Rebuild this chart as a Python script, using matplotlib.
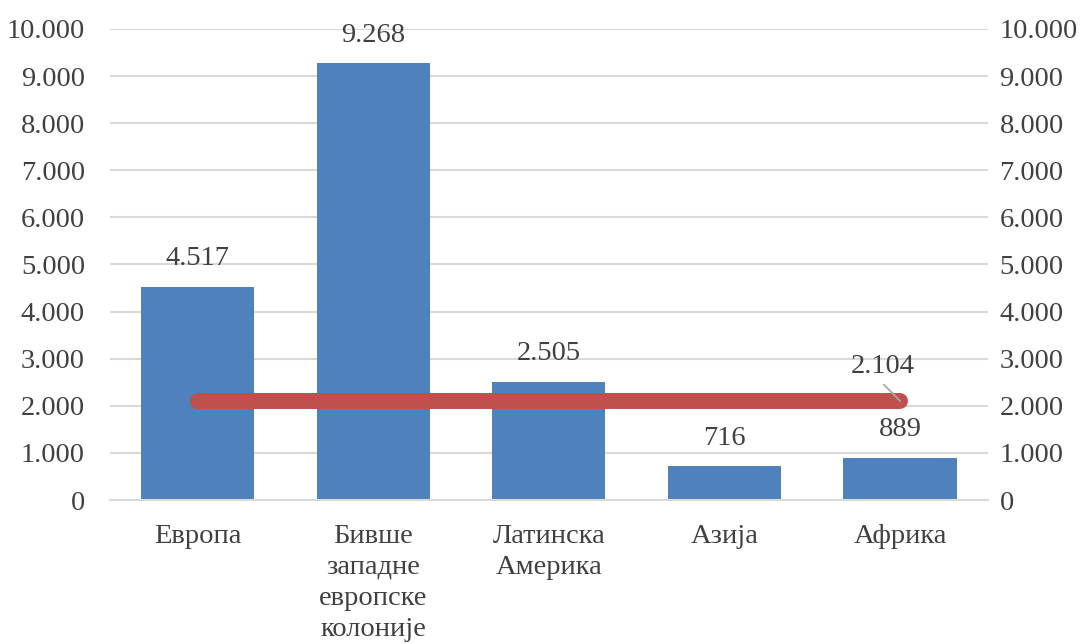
import matplotlib
matplotlib.use('agg')
import matplotlib.pyplot as plt
from matplotlib.ticker import FuncFormatter

categories = ['Европа', 'Бивше\nзападне\nевропске\nколоније', 'Латинска\nАмерика', 'Азија', 'Африка']
values = [4517, 9268, 2505, 716, 889]
world_avg = [2104, 2104, 2104, 2104, 2104]

BAR_COLOR = '#4F81BD'
LINE_COLOR = '#C0504D'
TEXT_COLOR = '#404040'
GRID_COLOR = '#D9D9D9'
FS = 20.5

plt.rcParams['font.family'] = ['Liberation Serif', 'DejaVu Serif']

fig = plt.figure(figsize=(10.89, 6.44), dpi=100)
ax = fig.add_axes([0.101, 0.2236, 0.806, 0.7314])

x = list(range(len(categories)))
ax.bar(x, values, width=0.645, color=BAR_COLOR, zorder=2)
ax.plot(x, world_avg, color=LINE_COLOR, linewidth=11.5, solid_capstyle='round', zorder=3)

for xi, v in zip(x, values):
    ax.text(xi, v + 600, f'{v:,}'.replace(',', '.'), ha='center', va='center',
            fontsize=FS, color=TEXT_COLOR, zorder=4)

# label for the average line, with a small leader line
last = x[-1]
ax.text(last - 0.1, world_avg[-1] + 730, f'{world_avg[-1]:,}'.replace(',', '.'),
        ha='center', va='center', fontsize=FS, color=TEXT_COLOR, zorder=4)
ax.plot([last - 0.09, last], [world_avg[-1] + 340, world_avg[-1]],
        color='#A6A6A6', lw=1.3, zorder=4)

ax.set_xlim(-0.5, len(categories) - 0.5)
ax.set_ylim(0, 10000)
ax.set_yticks(range(0, 10001, 1000))
fmt = FuncFormatter(lambda v, p: f'{int(v):,}'.replace(',', '.'))
ax.yaxis.set_major_formatter(fmt)
ax.yaxis.grid(True, color=GRID_COLOR, linewidth=1.5, zorder=0)
ax.set_axisbelow(True)

for s in ax.spines.values():
    s.set_visible(False)
ax.spines['bottom'].set_visible(True)
ax.spines['bottom'].set_color(GRID_COLOR)
ax.spines['bottom'].set_linewidth(1.5)

ax.set_xticks(x)
ax.set_xticklabels(categories, fontsize=FS, color=TEXT_COLOR, linespacing=1.33)
ax.tick_params(axis='x', length=0, pad=17)
ax.tick_params(axis='y', length=0, labelsize=FS, labelcolor=TEXT_COLOR, pad=18)

ax2 = ax.twinx()
ax2.set_ylim(0, 10000)
ax2.set_yticks(range(0, 10001, 1000))
ax2.yaxis.set_major_formatter(fmt)
ax2.tick_params(axis='y', length=0, labelsize=FS, labelcolor=TEXT_COLOR, pad=8.5)
for s in ax2.spines.values():
    s.set_visible(False)

fig.savefig('out.png', dpi=100, facecolor='white')
